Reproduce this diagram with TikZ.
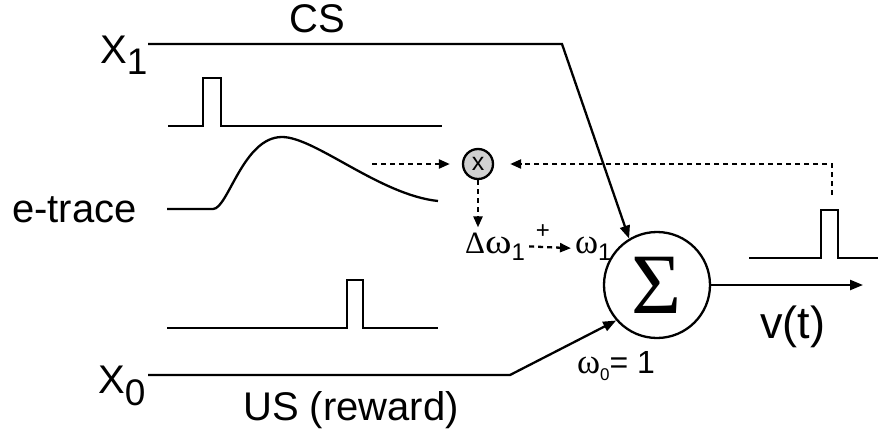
\documentclass[tikz,border=0pt]{standalone}
\usepackage{fontspec}
\setmainfont{Liberation Sans}
\newfontfamily\serifgr{Liberation Serif}
\usetikzlibrary{arrows.meta}
\newcommand\fsz[1]{\fontsize{#1}{#1}\selectfont}
\begin{document}
\begin{tikzpicture}[x=1pt,y=-1pt, line width=2.3pt,
  lbl/.style={inner sep=0pt, anchor=base west},
  sig/.style={-{Triangle[length=13pt,width=10pt]}},
  dotarrow/.style={dash pattern=on 5pt off 4pt, -{Triangle[length=11pt,width=9pt]}}]
\useasboundingbox (0,0) rectangle (878,434);

% labels
\node[lbl, font=\fsz{40}] (x1) at (99,63) {X\raisebox{-11pt}{\fsz{37}1}};
\node[lbl, font=\fsz{40}] (x0) at (97,393) {X\raisebox{-12pt}{\fsz{37}0}};
\node[lbl, font=\fsz{40}] (cs) at (288,32) {CS};
\node[lbl, font=\fsz{40}] (et) at (11,222) {e-trace};
\node[lbl, font=\fsz{40}] (us) at (242,420) {US (reward)};
\node[lbl, font=\fsz{45}] (vt) at (759,338) {v(t)};
\node[lbl] (dw) at (464,253) {\serifgr{\fsz{31}Δ}{\fsz{35}\scalebox{1.15}[1]{ω}}\raisebox{-7pt}{\rmfamily\fsz{24}1}};
\node[lbl] (w1) at (574,253) {\serifgr\fsz{35}ω\raisebox{-7pt}{\rmfamily\fsz{24}1}};
\node[lbl] (w0) at (576,373) {{\serifgr\fsz{35}ω}\raisebox{-7pt}{\fsz{17}0}\fsz{32}= 1};

% summation unit and multiplier
\node[circle, draw, minimum size=106pt, inner sep=0pt, font=\serifgr\fsz{86}] (sum) at (657,285) {Σ};
\node[circle, draw, fill=black!18, minimum size=30pt, inner sep=0pt, font=\fsz{25}] (xn) at (478,164) {x};

% coordinates
\coordinate (csa) at (148,44);
\coordinate (csb) at (562,44);
\coordinate (usa) at (148,375);
\coordinate (usb) at (510,375);
\coordinate (vend) at (863,285);
\coordinate (fba) at (832,195);
\coordinate (fbb) at (832,164);
\coordinate (ela) at (372,164);

% signal lines
\draw[sig] (csa) -- (csb) -- (sum.121);
\draw[sig] (usa) -- (usb) -- (sum.221);
\draw[sig] (sum) -- (vend);

% dotted connections
\draw[dotarrow, shorten >=12pt] (ela) -- (xn);
\draw[dotarrow, shorten >=16pt] (fba) -- (fbb) -- (xn);
\draw[dotarrow, shorten >=4pt] (xn) -- (xn |- dw.north);
\draw[dotarrow, shorten <=3pt, shorten >=3pt] (dw.east) -- node[pos=0.35, yshift=15pt, font=\fsz{24}] (plus) {+} (w1.west);

% traces
\draw (168,126) -- (203,126) -- (203,78) -- (221,78) -- (221,126) -- (442,126);
\draw (167,209) -- (213,209) .. controls (228,209) and (243,137) .. (282,137)
      .. controls (315,137) and (380,195) .. (438,201);
\draw (167,328) -- (347,328) -- (347,280) -- (363,280) -- (363,328) -- (438,328);
\draw (749,258) -- (821,258) -- (821,210) -- (838,210) -- (838,258) -- (878,258);
\end{tikzpicture}
\end{document}
